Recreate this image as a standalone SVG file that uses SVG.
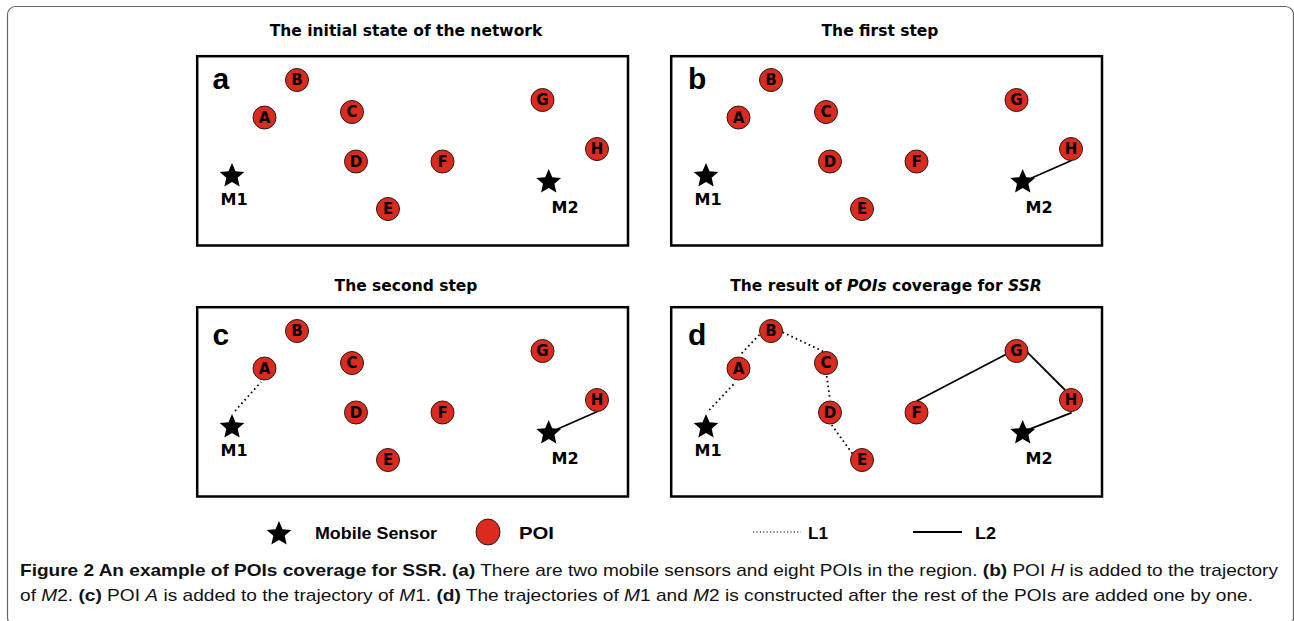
<svg xmlns="http://www.w3.org/2000/svg" xmlns:xlink="http://www.w3.org/1999/xlink" width="1294" height="621" viewBox="0 0 1294 621">
<style>
.frame{fill:#fff;stroke:#666;stroke-width:1.2}
.box{fill:#fff;stroke:#000;stroke-width:2.5}
.title{font-family:"DejaVu Sans",Verdana,sans-serif;font-weight:bold;font-size:15.5px;fill:#000;text-anchor:middle}
.plabel{font-family:"Liberation Sans",Arial,sans-serif;font-weight:bold;font-size:30px;fill:#000}
.poi circle{fill:#db2a1e;stroke:#2a1a1a;stroke-width:1}
.poi text{font-family:"DejaVu Sans",Verdana,sans-serif;font-weight:bold;font-size:15px;fill:#000;text-anchor:middle}
.ms text{font-family:"DejaVu Sans",Verdana,sans-serif;font-weight:bold;font-size:16px;fill:#000;text-anchor:middle}
.l1{stroke:#000;stroke-width:1.8;stroke-dasharray:1.6 3.2;fill:none}
.l2{stroke:#000;stroke-width:1.8;fill:none}
.leg{font-family:"Liberation Sans",Arial,sans-serif;font-weight:bold;font-size:17px;fill:#000}
.cap{font-family:"Liberation Sans",Arial,sans-serif;font-size:17px;fill:#111}
.b{font-weight:bold}
.i{font-style:italic}
</style>
<defs>
<polygon id="star" points="0,-13 3.527,-4.854 12.364,-4.017 5.706,1.854 7.641,10.517 0,6 -7.641,10.517 -5.706,1.854 -12.364,-4.017 -3.527,-4.854" fill="#000"/>
</defs>
<rect class="frame" x="7.5" y="6.5" width="1286" height="619" rx="8"/>

<g id="titles">
<text class="title" x="406" y="36">The initial state of the network</text>
<text class="title" x="880" y="36">The first step</text>
<text class="title" x="406" y="291">The second step</text>
<text class="title" x="886" y="291">The result of <tspan font-style="italic">POIs</tspan> coverage for <tspan font-style="italic">SSR</tspan></text>
</g>

<g id="boxes">
<rect class="box" x="197.2" y="56.2" width="430.8" height="189.3"/>
<rect class="box" x="671.2" y="56.2" width="430.8" height="189.3"/>
<rect class="box" x="197.2" y="307.2" width="430.8" height="189.3"/>
<rect class="box" x="671.2" y="307.2" width="430.8" height="189.3"/>
<text class="plabel" x="212.5" y="88.5">a</text>
<text class="plabel" x="688" y="88.5">b</text>
<text class="plabel" x="212.5" y="345">c</text>
<text class="plabel" x="688" y="345">d</text>
</g>

<g id="connectors">
<line class="l2" x1="1022.5" y1="182" x2="1071.5" y2="160.5"/>
<line class="l2" x1="548.5" y1="433" x2="597.5" y2="411.5"/>
<line class="l1" x1="235" y1="411" x2="261" y2="382"/>
<line class="l1" x1="709.3" y1="410" x2="735" y2="382.7"/>
<line class="l1" x1="741.7" y1="353.3" x2="761.7" y2="332.3"/>
<line class="l1" x1="782.7" y1="332.3" x2="825" y2="352.3"/>
<line class="l1" x1="826.7" y1="376" x2="830" y2="400"/>
<line class="l1" x1="831.7" y1="425" x2="852.7" y2="454"/>
<line class="l2" x1="916.7" y1="401" x2="1006.7" y2="354"/>
<line class="l2" x1="1026.7" y1="351.7" x2="1065" y2="390"/>
<line class="l2" x1="1071.7" y1="412.7" x2="1023.3" y2="431.7"/>
</g>

<g id="panel-a">
<g id="a-M1" class="ms"><use xlink:href="#star" x="232" y="176"/><text x="234" y="205">M1</text></g>
<g id="a-M2" class="ms"><use xlink:href="#star" x="548.7" y="182"/><text x="565" y="213">M2</text></g>
<g id="a-A" class="poi"><circle cx="264.5" cy="117.5" r="11.5"/><text x="264.5" y="122.8">A</text></g>
<g id="a-B" class="poi"><circle cx="297" cy="80" r="11.5"/><text x="297" y="85.3">B</text></g>
<g id="a-C" class="poi"><circle cx="352" cy="112" r="11.5"/><text x="352" y="117.3">C</text></g>
<g id="a-D" class="poi"><circle cx="356" cy="161.5" r="11.5"/><text x="356" y="166.8">D</text></g>
<g id="a-E" class="poi"><circle cx="388" cy="209" r="11.5"/><text x="388" y="214.3">E</text></g>
<g id="a-F" class="poi"><circle cx="442.5" cy="161.5" r="11.5"/><text x="442.5" y="166.8">F</text></g>
<g id="a-G" class="poi"><circle cx="542.5" cy="100" r="11.5"/><text x="542.5" y="105.3">G</text></g>
<g id="a-H" class="poi"><circle cx="597" cy="149" r="11.5"/><text x="597" y="154.3">H</text></g>
</g>

<g id="panel-b" transform="translate(474,0)">
<g id="b-M1" class="ms"><use xlink:href="#star" x="232" y="176"/><text x="234" y="205">M1</text></g>
<g id="b-M2" class="ms"><use xlink:href="#star" x="548.7" y="182"/><text x="565" y="213">M2</text></g>
<g id="b-A" class="poi"><circle cx="264.5" cy="117.5" r="11.5"/><text x="264.5" y="122.8">A</text></g>
<g id="b-B" class="poi"><circle cx="297" cy="80" r="11.5"/><text x="297" y="85.3">B</text></g>
<g id="b-C" class="poi"><circle cx="352" cy="112" r="11.5"/><text x="352" y="117.3">C</text></g>
<g id="b-D" class="poi"><circle cx="356" cy="161.5" r="11.5"/><text x="356" y="166.8">D</text></g>
<g id="b-E" class="poi"><circle cx="388" cy="209" r="11.5"/><text x="388" y="214.3">E</text></g>
<g id="b-F" class="poi"><circle cx="442.5" cy="161.5" r="11.5"/><text x="442.5" y="166.8">F</text></g>
<g id="b-G" class="poi"><circle cx="542.5" cy="100" r="11.5"/><text x="542.5" y="105.3">G</text></g>
<g id="b-H" class="poi"><circle cx="597" cy="149" r="11.5"/><text x="597" y="154.3">H</text></g>
</g>

<g id="panel-c" transform="translate(0,251)">
<g id="c-M1" class="ms"><use xlink:href="#star" x="232" y="176"/><text x="234" y="205">M1</text></g>
<g id="c-M2" class="ms"><use xlink:href="#star" x="548.7" y="182"/><text x="565" y="213">M2</text></g>
<g id="c-A" class="poi"><circle cx="264.5" cy="117.5" r="11.5"/><text x="264.5" y="122.8">A</text></g>
<g id="c-B" class="poi"><circle cx="297" cy="80" r="11.5"/><text x="297" y="85.3">B</text></g>
<g id="c-C" class="poi"><circle cx="352" cy="112" r="11.5"/><text x="352" y="117.3">C</text></g>
<g id="c-D" class="poi"><circle cx="356" cy="161.5" r="11.5"/><text x="356" y="166.8">D</text></g>
<g id="c-E" class="poi"><circle cx="388" cy="209" r="11.5"/><text x="388" y="214.3">E</text></g>
<g id="c-F" class="poi"><circle cx="442.5" cy="161.5" r="11.5"/><text x="442.5" y="166.8">F</text></g>
<g id="c-G" class="poi"><circle cx="542.5" cy="100" r="11.5"/><text x="542.5" y="105.3">G</text></g>
<g id="c-H" class="poi"><circle cx="597" cy="149" r="11.5"/><text x="597" y="154.3">H</text></g>
</g>

<g id="panel-d" transform="translate(474,251)">
<g id="d-M1" class="ms"><use xlink:href="#star" x="232" y="176"/><text x="234" y="205">M1</text></g>
<g id="d-M2" class="ms"><use xlink:href="#star" x="548.7" y="182"/><text x="565" y="213">M2</text></g>
<g id="d-A" class="poi"><circle cx="264.5" cy="117.5" r="11.5"/><text x="264.5" y="122.8">A</text></g>
<g id="d-B" class="poi"><circle cx="297" cy="80" r="11.5"/><text x="297" y="85.3">B</text></g>
<g id="d-C" class="poi"><circle cx="352" cy="112" r="11.5"/><text x="352" y="117.3">C</text></g>
<g id="d-D" class="poi"><circle cx="356" cy="161.5" r="11.5"/><text x="356" y="166.8">D</text></g>
<g id="d-E" class="poi"><circle cx="388" cy="209" r="11.5"/><text x="388" y="214.3">E</text></g>
<g id="d-F" class="poi"><circle cx="442.5" cy="161.5" r="11.5"/><text x="442.5" y="166.8">F</text></g>
<g id="d-G" class="poi"><circle cx="542.5" cy="100" r="11.5"/><text x="542.5" y="105.3">G</text></g>
<g id="d-H" class="poi"><circle cx="597" cy="149" r="11.5"/><text x="597" y="154.3">H</text></g>
</g>

<g id="legend">
<use xlink:href="#star" transform="translate(279,534)"/>
<text class="leg" x="315" y="539" textLength="122" lengthAdjust="spacingAndGlyphs">Mobile Sensor</text>
<ellipse cx="488" cy="532" rx="12" ry="13" fill="#db2a1e" stroke="#2a1a1a" stroke-width="1"/>
<text class="leg" x="519" y="539" textLength="35" lengthAdjust="spacingAndGlyphs">POI</text>
<line class="l1" x1="753" y1="532" x2="801" y2="532" style="stroke-width:1.2;stroke-dasharray:1.2 2.2"/>
<text class="leg" x="808" y="539" textLength="20" lengthAdjust="spacingAndGlyphs">L1</text>
<line class="l2" x1="913" y1="532" x2="962" y2="532"/>
<text class="leg" x="975" y="539" textLength="21" lengthAdjust="spacingAndGlyphs">L2</text>
</g>

<g id="caption">
<text class="cap" x="20" y="576" textLength="1258" lengthAdjust="spacingAndGlyphs"><tspan class="b">Figure 2 An example of POIs coverage for SSR. (a)</tspan> There are two mobile sensors and eight POIs in the region. <tspan class="b">(b)</tspan> POI <tspan class="i">H</tspan> is added to the trajectory</text>
<text class="cap" x="20" y="601" textLength="1233" lengthAdjust="spacingAndGlyphs">of <tspan class="i">M</tspan>2. <tspan class="b">(c)</tspan> POI <tspan class="i">A</tspan> is added to the trajectory of <tspan class="i">M</tspan>1. <tspan class="b">(d)</tspan> The trajectories of <tspan class="i">M</tspan>1 and <tspan class="i">M</tspan>2 is constructed after the rest of the POIs are added one by one.</text>
</g>
</svg>
